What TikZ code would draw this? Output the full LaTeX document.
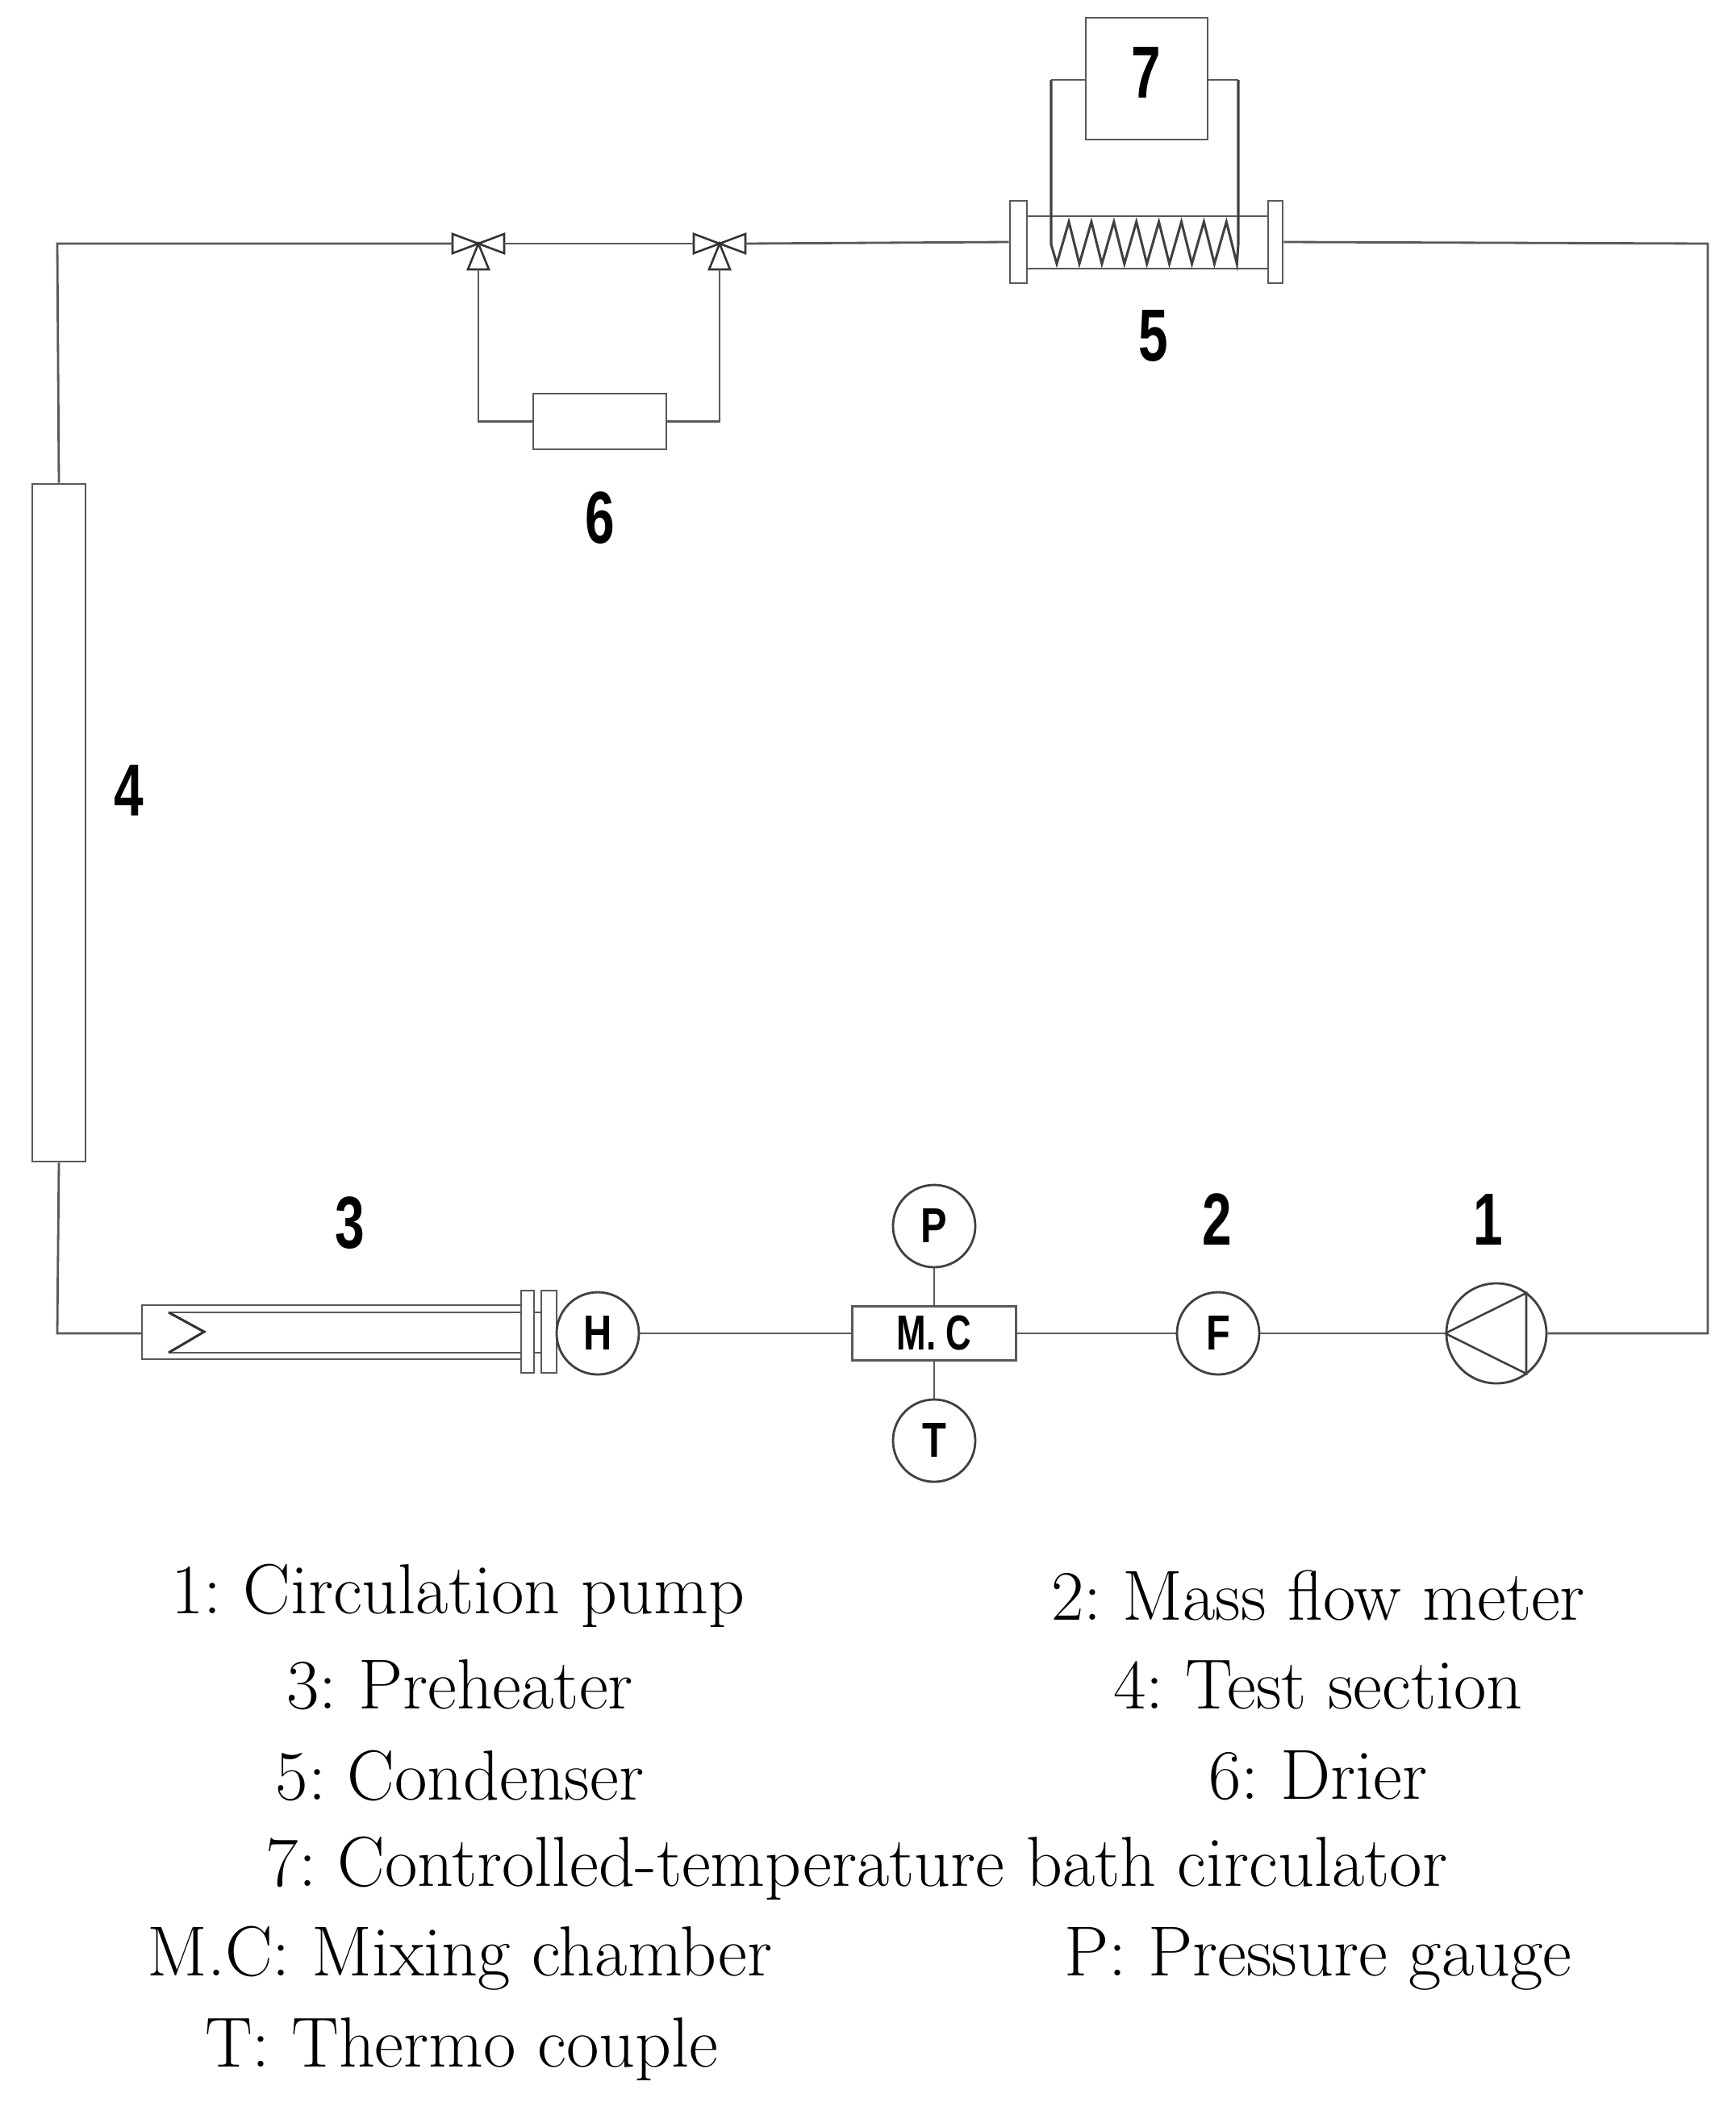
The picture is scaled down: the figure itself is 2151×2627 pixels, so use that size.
\documentclass[tikz,border=0pt]{standalone}
\usepackage{fontspec}
\newfontfamily\lblfont{Liberation Sans}
\frenchspacing
\begin{document}
\begin{tikzpicture}[x=0.03cm,y=-0.03cm,
  pipe/.style={draw=black!65,line width=2.4pt},
  dig/.style={font=\lblfont\bfseries\fontsize{78}{80}\selectfont,xscale=0.72,inner sep=0},
  inst/.style={circle,draw=black!75,line width=2.4pt,minimum size=102*0.03cm,inner sep=0,font=\lblfont\bfseries\fontsize{52}{54}\selectfont},
  leg/.style={font=\fontsize{75}{78}\selectfont,inner sep=0}]
\useasboundingbox (0,0) rectangle (2151,2627);
\coordinate (tl) at (71,302);
\coordinate (tr) at (2117,302);
\coordinate (bl) at (71,1653);
\coordinate (br) at (2117,1653);
% test section 4
\node[pipe,draw,rectangle,minimum width=66*0.03cm,minimum height=840*0.03cm,inner sep=0] (ts) at (73,1020) {};
\node[dig] (l4) at (160,980) {4};
% valves
\foreach \n/\x in {va/593,vb/892}{
  \coordinate (\n) at (\x,302);
  \draw[black!80,line width=2.2pt,fill=white] (\x,302) -- (\x-32,290) -- (\x-32,314) -- cycle;
  \draw[black!80,line width=2.2pt,fill=white] (\x,302) -- (\x+32,290) -- (\x+32,314) -- cycle;
  \draw[black!80,line width=2.2pt,fill=white] (\x,302) -- (\x-13,334) -- (\x+13,334) -- cycle;
}
% drier 6
\node[pipe,draw,rectangle,minimum width=165*0.03cm,minimum height=69*0.03cm,inner sep=0] (dr) at (743.5,522.5) {};
\node[dig] (l6) at (744,642) {6};
\draw[pipe] (593,334) |- (dr.west);
\draw[pipe] (892,334) |- (dr.east);
% condenser 5
\node[pipe,draw,rectangle,minimum width=21*0.03cm,minimum height=102*0.03cm,inner sep=0] (fl1) at (1262.5,300) {};
\node[pipe,draw,rectangle,minimum width=18*0.03cm,minimum height=102*0.03cm,inner sep=0] (fl2) at (1581,300) {};
\draw[pipe] (1273,268) -- (1572,268) (1273,333) -- (1572,333);
\draw[black!75,line width=2.6pt] (1303,99) -- (1303,303) -- (1310,327)
  \foreach \k in {0,...,7}{ -- ({1325+27.9*\k},275) -- ({1338+27.9*\k},327)} -- (1535,303) -- (1535,99);
\node[pipe,draw,rectangle,minimum width=151*0.03cm,minimum height=151*0.03cm,inner sep=0] (bath) at (1421.5,97.5) {};
\node[dig] (l7) at (1421,90) {7};
\draw[pipe] (1303,99) -- (1346,99) (1497,99) -- (1535,99);
\node[dig] (l5) at (1430,417) {5};
% preheater 3
\draw[pipe] (662,1618) -- (176,1618) -- (176,1685) -- (662,1685);
\draw[pipe] (646,1627) -- (209,1627) (646,1677) -- (209,1677);
\draw[black!80,line width=2.6pt] (209,1627) -- (253,1651) -- (209,1677);
\node[pipe,draw,rectangle,fill=white,minimum width=16*0.03cm,minimum height=102*0.03cm,inner sep=0] (pf1) at (654,1651) {};
\node[pipe,draw,rectangle,fill=white,minimum width=19*0.03cm,minimum height=102*0.03cm,inner sep=0] (pf2) at (680.5,1651) {};
\draw[pipe] (662,1627) -- (671,1627) (662,1677) -- (671,1677);
\node[inst] (H) at (741,1653) {\scalebox{0.8}[1]{H}};
\node[dig] (l3) at (434,1516) {3};
% mixing chamber
\node[pipe,draw,rectangle,minimum width=203*0.03cm,minimum height=67*0.03cm,inner sep=0,font=\lblfont\bfseries\fontsize{52}{54}\selectfont] (mc) at (1158,1653) {\scalebox{0.72}[1]{M. C}};
\node[inst] (P) at (1158,1520) {\scalebox{0.8}[1]{P}};
\node[inst] (T) at (1158,1786) {\scalebox{0.8}[1]{T}};
\node[inst] (F) at (1510,1653) {\scalebox{0.8}[1]{F}};
\node[inst,minimum size=124*0.03cm] (pump) at (1855,1653) {};
\draw[black!75,line width=2.2pt] (pump.west) -- (1855+37,1653-50) -- (1855+37,1653+50) -- cycle;
\node[dig] (l2) at (1509,1512) {2};
\node[dig] (l1) at (1845,1512) {1};
% pipes
\draw[pipe] (176,1653) -- (bl) -- (ts.south);
\draw[pipe] (ts.north) -- (tl) -- (561,302);
\draw[pipe] (625,302) -- (860,302);
\draw[pipe] (924,302) -- (fl1.west);
\draw[pipe] (fl2.east) -- (tr) -- (br) -- (pump.east);
\draw[pipe] (pump.west) -- (F.east);
\draw[pipe] (F.west) -- (mc.east);
\draw[pipe] (mc.west) -- (H.east);
\draw[pipe] (mc.north) -- (P.south);
\draw[pipe] (mc.south) -- (T.north);
% legend
\node[leg] at (568,1978) {1: Circulation pump};
\node[leg] at (1634,1978) {2: Mass flow meter};
\node[leg] at (570,2089) {3: Preheater};
\node[leg] at (1634,2089) {4: Test section};
\node[leg] at (570,2201) {5: Condenser};
\node[leg] at (1634,2201) {6: Drier};
\node[leg] at (1062,2316) {7: Controlled-temperature bath circulator};
\node[leg] at (570,2428) {M.C: Mixing chamber};
\node[leg] at (1634,2428) {P: Pressure gauge};
\node[leg] at (572,2541) {T: Thermo couple};
\end{tikzpicture}
\end{document}
